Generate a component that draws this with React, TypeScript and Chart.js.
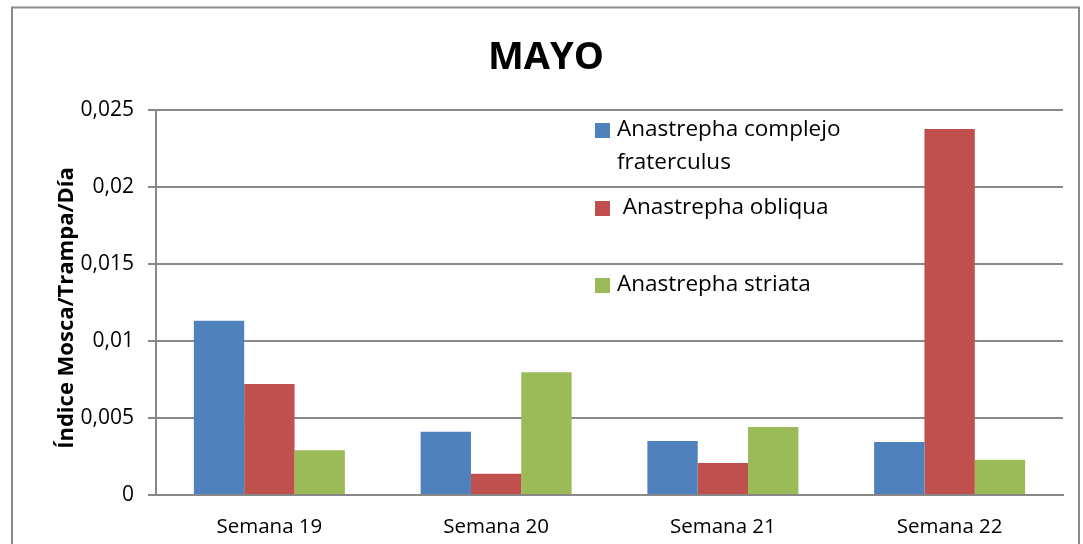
import React, { useEffect, useRef } from "react";
import { Chart, registerables } from "chart.js";

Chart.register(...registerables);

const categories = ["Semana 19", "Semana 20", "Semana 21", "Semana 22"];
const seriesNames = ["Anastrepha complejo fraterculus", "Anastrepha obliqua", "Anastrepha striata"];
const fraterculus = [0.01132, 0.00411, 0.00351, 0.00344];
const obliqua = [0.00721, 0.00138, 0.00208, 0.02377];
const striata = [0.0029, 0.00797, 0.00442, 0.00229];
const yTickLabels = ["0", "0,005", "0,01", "0,015", "0,02", "0,025"];
const colors = ["#4F81BD", "#C0504D", "#9BBB59"];
const chartTitle = "MAYO";
const yTitle = "Índice Mosca/Trampa/Día";

const FONT = "'Open Sans', sans-serif";

const decorPlugin = {
  id: "decor",
  beforeDraw(chart: any) {
    const ctx = chart.ctx;
    ctx.save();
    ctx.fillStyle = "#ffffff";
    ctx.fillRect(0, 0, chart.width, chart.height);
    ctx.restore();
  },
  afterDraw(chart: any) {
    const ctx = chart.ctx;
    ctx.save();
    // frame
    ctx.strokeStyle = "#8a8a8a";
    ctx.lineWidth = 2;
    ctx.strokeRect(12, 7.5, 1067, 560);
    // title
    ctx.fillStyle = "#000";
    ctx.textAlign = "center";
    ctx.textBaseline = "middle";
    ctx.font = `bold 38px ${FONT}`;
    ctx.fillText(chartTitle, 546, 58);
    // y title
    ctx.save();
    ctx.translate(67, 308);
    ctx.rotate(-Math.PI / 2);
    ctx.font = `bold 22px ${FONT}`;
    ctx.fillText(yTitle, 0, 0);
    ctx.restore();
    // legend
    ctx.textAlign = "left";
    ctx.font = `22.5px ${FONT}`;
    const items = [
      { lines: ["Anastrepha complejo", "fraterculus"], y: 130, tx: 617 },
      { lines: [" Anastrepha obliqua"], y: 208, tx: 617 },
      { lines: ["Anastrepha striata"], y: 285, tx: 617 },
    ];
    items.forEach((it, i) => {
      ctx.fillStyle = colors[i];
      ctx.fillRect(595, it.y - 7, 15, 15);
      ctx.fillStyle = "#000";
      it.lines.forEach((l, j) => ctx.fillText(l, it.tx, it.y + j * 33));
    });
    ctx.restore();
  },
};

export default function App() {
  const ref = useRef<HTMLCanvasElement | null>(null);
  useEffect(() => {
    if (!ref.current) return;
    const chart = new Chart(ref.current, {
      type: "bar",
      data: {
        labels: categories,
        datasets: [fraterculus, obliqua, striata].map((d, i) => ({
          label: seriesNames[i],
          data: d,
          backgroundColor: colors[i],
          borderWidth: 0,
          categoryPercentage: 0.666,
          barPercentage: 1,
        })),
      },
      options: {
        animation: false,
        responsive: false,
        maintainAspectRatio: false,
        layout: { padding: { top: 110, right: 20, left: 0, bottom: 0 } },
        plugins: {
          legend: { display: false },
          title: { display: false },
          tooltip: { enabled: false },
        },
        scales: {
          x: {
            grid: { display: false },
            border: { display: true, color: "#888", width: 2 },
            ticks: {
              color: "#000",
              font: { family: FONT, size: 20.5 },
              padding: 12,
            },
            afterFit: (s: any) => {
              s.height = 49;
            },
          },
          y: {
            min: 0,
            max: 0.025,
            ticks: {
              stepSize: 0.005,
              color: "#000",
              font: { family: FONT, size: 21 },
              padding: 14,
              callback: (_v: any, i: number) => yTickLabels[i],
            },
            grid: { color: "#888", lineWidth: 2, tickLength: 8 },
            border: { display: true, color: "#888", width: 2 },
            afterFit: (s: any) => {
              s.width = 156;
            },
          },
        },
      },
      plugins: [decorPlugin],
    });
    return () => chart.destroy();
  }, []);
  return (
    <div style={{ position: "fixed", left: 0, top: 0, width: 1083, height: 544, background: "#fff" }}>
      <canvas ref={ref} width={1083} height={544} style={{ display: "block", width: 1083, height: 544 }} />
    </div>
  );
}
